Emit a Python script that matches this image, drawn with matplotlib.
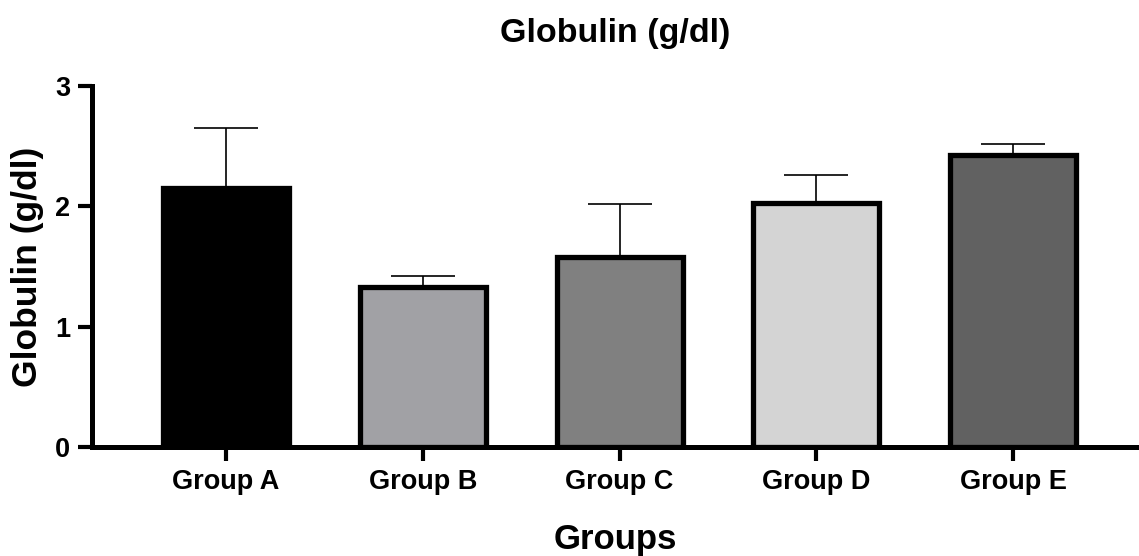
import numpy as np
import matplotlib.pyplot as plt

# data
groups = ["Group A", "Group B", "Group C", "Group D", "Group E"]
means = [2.15, 1.33, 1.58, 2.03, 2.43]
errors = [0.50, 0.09, 0.44, 0.23, 0.09]
colors = ["#000000", "#a1a1a5", "#808080", "#d4d4d4", "#616161"]

plt.rcParams['font.family'] = ['Liberation Sans', 'DejaVu Sans']
plt.rcParams['font.weight'] = 'bold'

fig = plt.figure(figsize=(11.39, 5.56), dpi=100)
ax = fig.add_axes([0.081, 0.196, 0.919, 0.649])

x = np.arange(len(groups))
# upper error bars only, drawn under the bar outlines
ax.errorbar(x, means, yerr=[np.zeros(len(errors)), errors], fmt='none',
            ecolor='black', elinewidth=1.2, capsize=23, capthick=1.2, zorder=1)
ax.bar(x, means, width=0.64, color=colors, edgecolor='black', linewidth=3.8, zorder=2)

ax.set_xlim(-0.68, 4.64)
ax.set_ylim(0, 3)
ax.set_yticks([0, 1, 2, 3])
ax.set_xticks(x)
ax.set_xticklabels(groups)

for side in ['top', 'right']:
    ax.spines[side].set_visible(False)
for side in ['left', 'bottom']:
    ax.spines[side].set_linewidth(3.6)

ax.tick_params(axis='both', width=3, length=10, labelsize=19.5, pad=6)
for lab in ax.get_xticklabels() + ax.get_yticklabels():
    lab.set_fontweight('bold')

ax.set_title("Globulin (g/dl)", fontsize=24.5, fontweight='bold', pad=32)
ax.set_xlabel("Groups", fontsize=25, fontweight='bold', labelpad=20)
ax.set_ylabel("Globulin (g/dl)", fontsize=25.5, fontweight='bold', labelpad=8)

fig.savefig("out.png", dpi=100)
